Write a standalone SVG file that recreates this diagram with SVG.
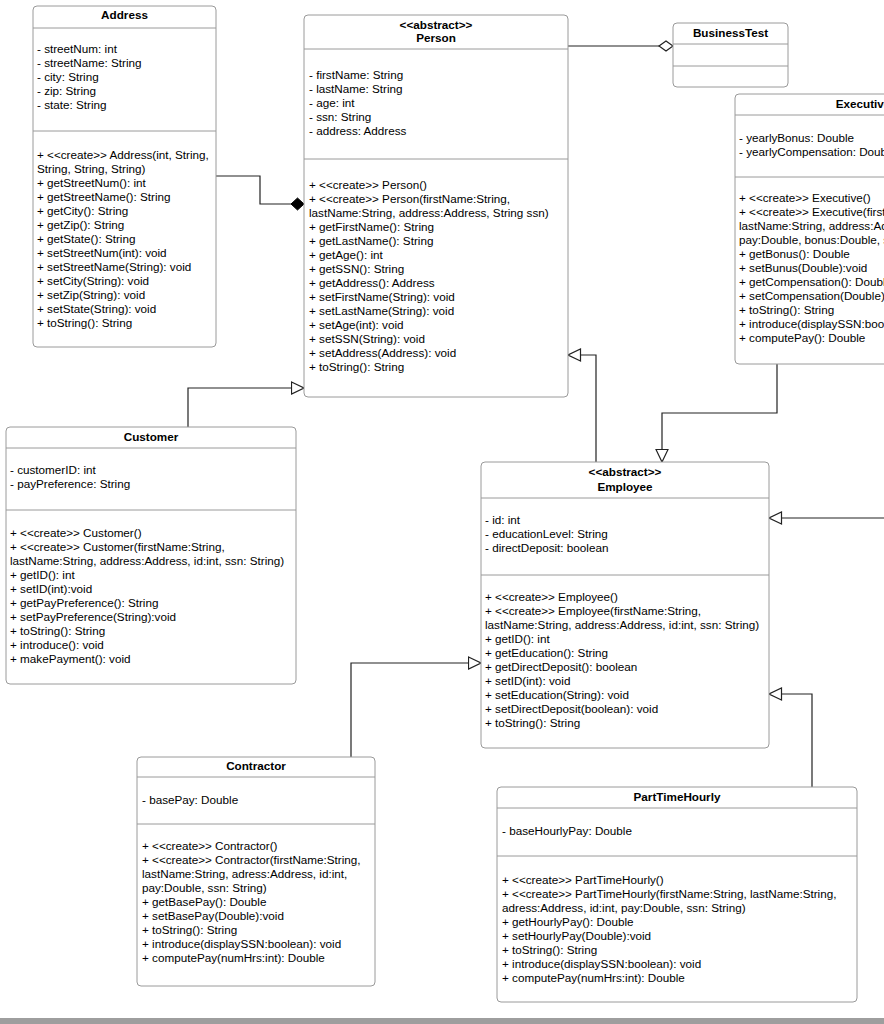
<svg xmlns="http://www.w3.org/2000/svg" width="884" height="1024" viewBox="0 0 884 1024">
<style>
  .box{fill:#fff;stroke:#9a9a9a;stroke-width:1}
  .div{stroke:#9a9a9a;stroke-width:1}
  .t{font-family:"Liberation Sans",Arial,sans-serif;font-size:11.7px;fill:#000}
  .h{font-family:"Liberation Sans",Arial,sans-serif;font-size:11.7px;font-weight:bold;fill:#000;text-anchor:middle}
  .c{fill:none;stroke:#222;stroke-width:1.2}
</style>
<defs>
  <marker id="gen" markerUnits="userSpaceOnUse" viewBox="0 0 14 14" markerWidth="14" markerHeight="14" refX="13.5" refY="7" orient="auto">
    <path d="M1,1 L13.5,7 L1,13 Z" fill="#fff" stroke="#222" stroke-width="1.2"/>
  </marker>
  <marker id="comp" markerUnits="userSpaceOnUse" viewBox="0 0 15 14" markerWidth="15" markerHeight="14" refX="14" refY="7" orient="auto">
    <path d="M1,7 L7.5,1 L14,7 L7.5,13 Z" fill="#000" stroke="#000" stroke-width="1"/>
  </marker>
  <marker id="agg" markerUnits="userSpaceOnUse" viewBox="0 0 16 12" markerWidth="16" markerHeight="12" refX="15" refY="6" orient="auto">
    <path d="M1,6 L8,1 L15,6 L8,11 Z" fill="#fff" stroke="#222" stroke-width="1.2"/>
  </marker>
</defs>
<rect width="884" height="1024" fill="#fff"/>

<g id="connectors">
  <path class="c" d="M216,176 H260 V204 H304" marker-end="url(#comp)"/>
  <path class="c" d="M568,46 H673" marker-end="url(#agg)"/>
  <path class="c" d="M188,427 V388 H304" marker-end="url(#gen)"/>
  <path class="c" d="M596,462 V355 H568" marker-end="url(#gen)"/>
  <path class="c" d="M777,364 V413 H662 V462" marker-end="url(#gen)"/>
  <path class="c" d="M884,518 H769" marker-end="url(#gen)"/>
  <path class="c" d="M351,757 V663 H481" marker-end="url(#gen)"/>
  <path class="c" d="M812,787 V694 H769" marker-end="url(#gen)"/>
</g>

<g id="Address">
  <rect class="box" x="33" y="6" width="183" height="341" rx="4"/>
  <line class="div" x1="33" y1="28" x2="216" y2="28"/>
  <line class="div" x1="33" y1="131" x2="216" y2="131"/>
  <text class="h" x="124.5" y="19">Address</text>
  <text class="t" x="37" y="53">- streetNum: int</text>
  <text class="t" x="37" y="67">- streetName: String</text>
  <text class="t" x="37" y="81">- city: String</text>
  <text class="t" x="37" y="95">- zip: String</text>
  <text class="t" x="37" y="109">- state: String</text>
  <text class="t" x="37" y="159">+ &lt;&lt;create&gt;&gt; Address(int, String,</text>
  <text class="t" x="37" y="173">String, String, String)</text>
  <text class="t" x="37" y="187">+ getStreetNum(): int</text>
  <text class="t" x="37" y="201">+ getStreetName(): String</text>
  <text class="t" x="37" y="215">+ getCity(): String</text>
  <text class="t" x="37" y="229">+ getZip(): String</text>
  <text class="t" x="37" y="243">+ getState(): String</text>
  <text class="t" x="37" y="257">+ setStreetNum(int): void</text>
  <text class="t" x="37" y="271">+ setStreetName(String): void</text>
  <text class="t" x="37" y="285">+ setCity(String): void</text>
  <text class="t" x="37" y="299">+ setZip(String): void</text>
  <text class="t" x="37" y="313">+ setState(String): void</text>
  <text class="t" x="37" y="327">+ toString(): String</text>
</g>

<g id="Person">
  <rect class="box" x="304" y="15" width="264" height="382" rx="4"/>
  <line class="div" x1="304" y1="49" x2="568" y2="49"/>
  <line class="div" x1="304" y1="159" x2="568" y2="159"/>
  <text class="h" x="436" y="29">&lt;&lt;abstract&gt;&gt;</text>
  <text class="h" x="436" y="42">Person</text>
  <text class="t" x="309" y="79">- firstName: String</text>
  <text class="t" x="309" y="93">- lastName: String</text>
  <text class="t" x="309" y="107">- age: int</text>
  <text class="t" x="309" y="121">- ssn: String</text>
  <text class="t" x="309" y="135">- address: Address</text>
  <text class="t" x="309" y="189">+ &lt;&lt;create&gt;&gt; Person()</text>
  <text class="t" x="309" y="203">+ &lt;&lt;create&gt;&gt; Person(firstName:String,</text>
  <text class="t" x="309" y="217">lastName:String, address:Address, String ssn)</text>
  <text class="t" x="309" y="231">+ getFirstName(): String</text>
  <text class="t" x="309" y="245">+ getLastName(): String</text>
  <text class="t" x="309" y="259">+ getAge(): int</text>
  <text class="t" x="309" y="273">+ getSSN(): String</text>
  <text class="t" x="309" y="287">+ getAddress(): Address</text>
  <text class="t" x="309" y="301">+ setFirstName(String): void</text>
  <text class="t" x="309" y="315">+ setLastName(String): void</text>
  <text class="t" x="309" y="329">+ setAge(int): void</text>
  <text class="t" x="309" y="343">+ setSSN(String): void</text>
  <text class="t" x="309" y="357">+ setAddress(Address): void</text>
  <text class="t" x="309" y="371">+ toString(): String</text>
</g>

<g id="BusinessTest">
  <rect class="box" x="673" y="23" width="115" height="64" rx="4"/>
  <line class="div" x1="673" y1="44" x2="788" y2="44"/>
  <line class="div" x1="673" y1="66" x2="788" y2="66"/>
  <text class="h" x="730.5" y="37">BusinessTest</text>
</g>

<g id="Executive">
  <rect class="box" x="735" y="94" width="256" height="270" rx="4"/>
  <line class="div" x1="735" y1="115" x2="991" y2="115"/>
  <line class="div" x1="735" y1="177" x2="991" y2="177"/>
  <text class="h" x="863" y="108">Executive</text>
  <text class="t" x="739" y="142">- yearlyBonus: Double</text>
  <text class="t" x="739" y="156">- yearlyCompensation: Double</text>
  <text class="t" x="739" y="202">+ &lt;&lt;create&gt;&gt; Executive()</text>
  <text class="t" x="739" y="216">+ &lt;&lt;create&gt;&gt; Executive(firstName:String,</text>
  <text class="t" x="739" y="230">lastName:String, address:Address, id:int,</text>
  <text class="t" x="739" y="244">pay:Double, bonus:Double, ssn: String)</text>
  <text class="t" x="739" y="258">+ getBonus(): Double</text>
  <text class="t" x="739" y="272">+ setBunus(Double):void</text>
  <text class="t" x="739" y="286">+ getCompensation(): Double</text>
  <text class="t" x="739" y="300">+ setCompensation(Double):void</text>
  <text class="t" x="739" y="314">+ toString(): String</text>
  <text class="t" x="739" y="328">+ introduce(displaySSN:boolean): void</text>
  <text class="t" x="739" y="342">+ computePay(): Double</text>
</g>

<g id="Customer">
  <rect class="box" x="6" y="427" width="290" height="257" rx="4"/>
  <line class="div" x1="6" y1="448" x2="296" y2="448"/>
  <line class="div" x1="6" y1="510" x2="296" y2="510"/>
  <text class="h" x="151" y="441">Customer</text>
  <text class="t" x="10" y="474">- customerID: int</text>
  <text class="t" x="10" y="488">- payPreference: String</text>
  <text class="t" x="10" y="537">+ &lt;&lt;create&gt;&gt; Customer()</text>
  <text class="t" x="10" y="551">+ &lt;&lt;create&gt;&gt; Customer(firstName:String,</text>
  <text class="t" x="10" y="565">lastName:String, address:Address, id:int, ssn: String)</text>
  <text class="t" x="10" y="579">+ getID(): int</text>
  <text class="t" x="10" y="593">+ setID(int):void</text>
  <text class="t" x="10" y="607">+ getPayPreference(): String</text>
  <text class="t" x="10" y="621">+ setPayPreference(String):void</text>
  <text class="t" x="10" y="635">+ toString(): String</text>
  <text class="t" x="10" y="649">+ introduce(): void</text>
  <text class="t" x="10" y="663">+ makePayment(): void</text>
</g>

<g id="Employee">
  <rect class="box" x="481" y="462" width="288" height="286" rx="4"/>
  <line class="div" x1="481" y1="498" x2="769" y2="498"/>
  <line class="div" x1="481" y1="575" x2="769" y2="575"/>
  <text class="h" x="625" y="476">&lt;&lt;abstract&gt;&gt;</text>
  <text class="h" x="625" y="491">Employee</text>
  <text class="t" x="485" y="524">- id: int</text>
  <text class="t" x="485" y="538">- educationLevel: String</text>
  <text class="t" x="485" y="552">- directDeposit: boolean</text>
  <text class="t" x="485" y="601">+ &lt;&lt;create&gt;&gt; Employee()</text>
  <text class="t" x="485" y="615">+ &lt;&lt;create&gt;&gt; Employee(firstName:String,</text>
  <text class="t" x="485" y="629">lastName:String, address:Address, id:int, ssn: String)</text>
  <text class="t" x="485" y="643">+ getID(): int</text>
  <text class="t" x="485" y="657">+ getEducation(): String</text>
  <text class="t" x="485" y="671">+ getDirectDeposit(): boolean</text>
  <text class="t" x="485" y="685">+ setID(int): void</text>
  <text class="t" x="485" y="699">+ setEducation(String): void</text>
  <text class="t" x="485" y="713">+ setDirectDeposit(boolean): void</text>
  <text class="t" x="485" y="727">+ toString(): String</text>
</g>

<g id="Contractor">
  <rect class="box" x="137" y="757" width="238" height="229" rx="4"/>
  <line class="div" x1="137" y1="777" x2="375" y2="777"/>
  <line class="div" x1="137" y1="824" x2="375" y2="824"/>
  <text class="h" x="256" y="770">Contractor</text>
  <text class="t" x="142" y="804">- basePay: Double</text>
  <text class="t" x="142" y="850">+ &lt;&lt;create&gt;&gt; Contractor()</text>
  <text class="t" x="142" y="864">+ &lt;&lt;create&gt;&gt; Contractor(firstName:String,</text>
  <text class="t" x="142" y="878">lastName:String, adress:Address, id:int,</text>
  <text class="t" x="142" y="892">pay:Double, ssn: String)</text>
  <text class="t" x="142" y="906">+ getBasePay(): Double</text>
  <text class="t" x="142" y="920">+ setBasePay(Double):void</text>
  <text class="t" x="142" y="934">+ toString(): String</text>
  <text class="t" x="142" y="948">+ introduce(displaySSN:boolean): void</text>
  <text class="t" x="142" y="962">+ computePay(numHrs:int): Double</text>
</g>

<g id="PartTimeHourly">
  <rect class="box" x="497" y="787" width="360" height="215" rx="4"/>
  <line class="div" x1="497" y1="808" x2="857" y2="808"/>
  <line class="div" x1="497" y1="856" x2="857" y2="856"/>
  <text class="h" x="677" y="801">PartTimeHourly</text>
  <text class="t" x="502" y="835">- baseHourlyPay: Double</text>
  <text class="t" x="502" y="884">+ &lt;&lt;create&gt;&gt; PartTimeHourly()</text>
  <text class="t" x="502" y="898">+ &lt;&lt;create&gt;&gt; PartTimeHourly(firstName:String, lastName:String,</text>
  <text class="t" x="502" y="912">adress:Address, id:int, pay:Double, ssn: String)</text>
  <text class="t" x="502" y="926">+ getHourlyPay(): Double</text>
  <text class="t" x="502" y="940">+ setHourlyPay(Double):void</text>
  <text class="t" x="502" y="954">+ toString(): String</text>
  <text class="t" x="502" y="968">+ introduce(displaySSN:boolean): void</text>
  <text class="t" x="502" y="982">+ computePay(numHrs:int): Double</text>
</g>

<rect x="0" y="1018" width="884" height="6" fill="#9e9e9e"/>
</svg>
